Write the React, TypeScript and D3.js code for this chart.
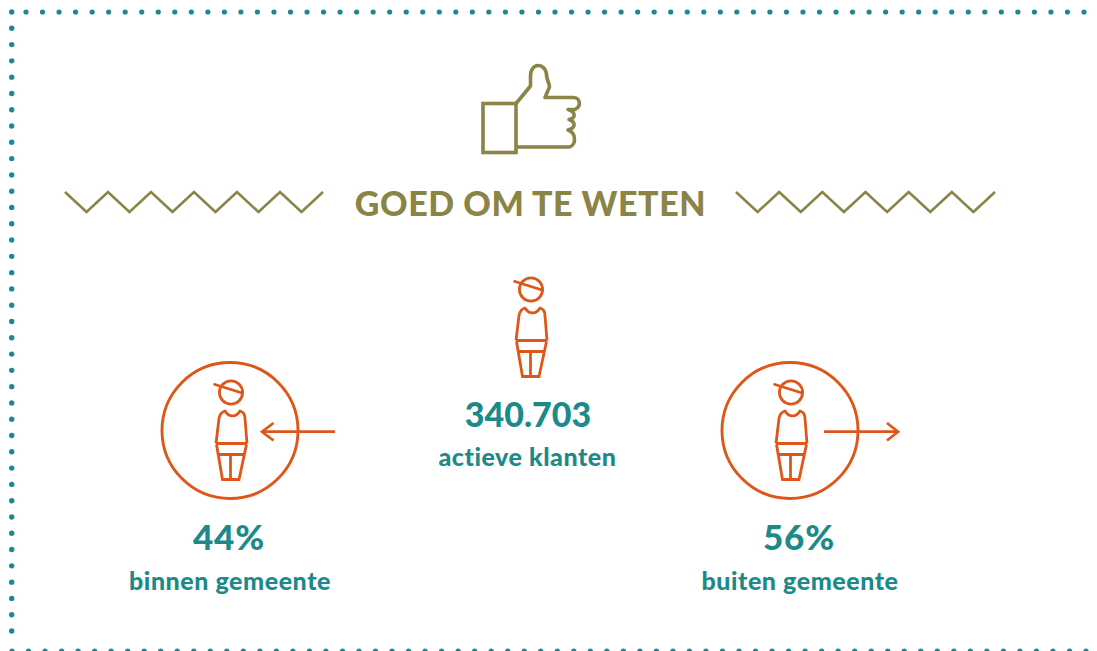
import React from 'react';
import * as d3 from 'd3';

const width = 1097;
const height = 651;

const teal = '#1c8a8a';
const olive = '#8a8446';
const orange = '#de5719';
const font = 'Lato, sans-serif';

const title = 'GOED OM TE WETEN';
const totalLabel = '340.703';
const totalCaption = 'actieve klanten';
const shareLabels = ['44%', '56%'];
const shareCaptions = ['binnen gemeente', 'buiten gemeente'];

// border dots and zigzag steps
const topDots = d3.range(66);
const leftDots = d3.range(39);
const zigzagSteps = d3.range(13);

const dotX = d3.scaleLinear().domain([1, 65]).range([26, 1084]);
const dotY = d3.scaleLinear().domain([0, 38]).range([12, 631]);
const bottomDotX = d3.scaleLinear().domain([0, 65]).range([12, 1086]);

function zigzag(x0: number, x1: number) {
  const x = d3.scaleLinear().domain([0, 12]).range([x0, x1]);
  return d3
    .line<number>()
    .x(d => x(d))
    .y(d => (d % 2 === 0 ? 192 : 212))(zigzagSteps) as string;
}

function Person({ x, y }: { x: number; y: number }) {
  // x,y = centre of the head
  return (
    <g transform={`translate(${x},${y})`} fill="none" stroke={orange} strokeWidth={2.8}>
      <circle r={11.6} />
      <path d="M-17.5,-8.5 L11,0.5" />
      <path d="M-15,51 L-12,26 Q-11,20 -6,18.5 C-2,25 5,25 9,18.5 Q14,20 14,26 L16,51" strokeLinejoin="round" />
      <path d="M-15,51 H16" strokeWidth={3} />
      <path d="M-14.5,52 L-8.5,87 H8 L15.5,52" />
      <path d="M-12,62 H13" strokeWidth={3} />
      <path d="M-0.5,62 V87" />
    </g>
  );
}

export default function App() {
  const textBase = { fontFamily: font, fontWeight: 900, fill: teal, textAnchor: 'middle' as const };
  const captionSpacing = 0.55;
  return (
    <svg
      width={width}
      height={height}
      style={{ position: 'absolute', left: 0, top: 0, background: '#fff' }}
    >
      {/* dotted border */}
      <g fill={teal}>
        {topDots.slice(1).map(i => (
          <circle key={`t${i}`} cx={dotX(i)} cy={12} r={2.6} />
        ))}
        {leftDots.map(i => (
          <circle key={`l${i}`} cx={11.7} cy={dotY(i)} r={2.7} />
        ))}
        {topDots.map(i => (
          <circle key={`b${i}`} cx={bottomDotX(i)} cy={651} r={2.6} />
        ))}
      </g>

      {/* thumb icon */}
      <g fill="none" stroke={olive} strokeWidth={3.6}>
        <rect x={483} y={103.5} width={33} height={49} />
        <path
          d="M516,103.5 L530.5,86 V76 C530.5,62 546,62.5 546.5,75 C547,81 549.5,83 549.5,87 L545,97.5 H573
             C580,97 582,106 575,109.5 H568 C576,112 576,118 569,119.5
             C576,122 576,128 568,130 C577,133 576,146 569,147 H516"
          strokeLinejoin="round"
        />
      </g>

      {/* title */}
      <path d={zigzag(65, 323)} fill="none" stroke={olive} strokeWidth={2.6} />
      <path d={zigzag(736, 995)} fill="none" stroke={olive} strokeWidth={2.6} />
      <text x={530.5} y={216} fontFamily={font} fontWeight={900} fontSize={34} letterSpacing={0.55} fill={olive} textAnchor="middle">
        {title}
      </text>

      {/* total */}
      <Person x={531} y={289.5} />
      <text x={528} y={427} fontSize={34} {...textBase}>
        {totalLabel}
      </text>
      <text x={527.5} y={466} fontSize={25} letterSpacing={captionSpacing} {...textBase}>
        {totalCaption}
      </text>

      {/* inside municipality */}
      <circle cx={230} cy={430.5} r={68} fill="none" stroke={orange} strokeWidth={2.9} />
      <Person x={231} y={392.5} />
      <path d="M335,431.7 H262 M273.5,423 L262,431.7 L273.5,440.5" fill="none" stroke={orange} strokeWidth={2.7} />
      <text x={229} y={550} fontSize={35} letterSpacing={0.8} {...textBase}>
        {shareLabels[0]}
      </text>
      <text x={230} y={590} fontSize={25} letterSpacing={captionSpacing} {...textBase}>
        {shareCaptions[0]}
      </text>

      {/* outside municipality */}
      <circle cx={790} cy={430.5} r={68} fill="none" stroke={orange} strokeWidth={2.9} />
      <Person x={791} y={392.5} />
      <path d="M824,431.7 H898 M887,423 L898,431.7 L887,440.5" fill="none" stroke={orange} strokeWidth={2.7} />
      <text x={799} y={550} fontSize={35} letterSpacing={0.8} {...textBase}>
        {shareLabels[1]}
      </text>
      <text x={800} y={590} fontSize={25} letterSpacing={captionSpacing} {...textBase}>
        {shareCaptions[1]}
      </text>
    </svg>
  );
}
